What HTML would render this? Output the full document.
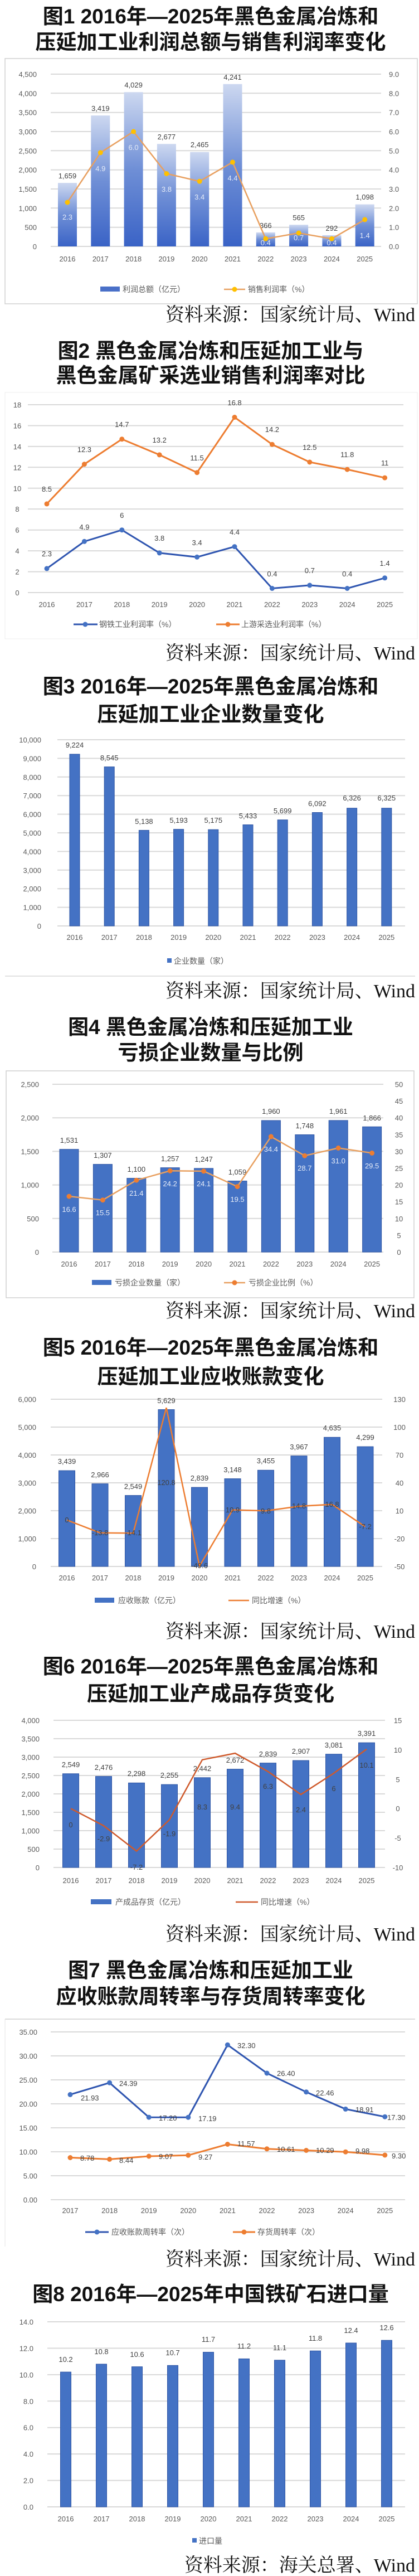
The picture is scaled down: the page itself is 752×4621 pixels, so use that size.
<!DOCTYPE html>
<html><head><meta charset="utf-8"><style>
html,body{margin:0;padding:0;background:#fff;}
svg{display:block;}
.t{font-family:"Liberation Sans","Noto Sans CJK SC",sans-serif;font-size:37px;font-weight:700;fill:#111;text-anchor:middle;}
.s{font-family:"Liberation Serif","Noto Serif CJK SC",serif;font-size:34px;fill:#111;text-anchor:end;}
.a{font-family:"Liberation Sans","Noto Sans CJK SC",sans-serif;font-size:13px;fill:#595959;}
.r{text-anchor:end;}
.m{text-anchor:middle;}
.d{font-family:"Liberation Sans","Noto Sans CJK SC",sans-serif;font-size:13px;fill:#404040;text-anchor:middle;}
.w{font-family:"Liberation Sans","Noto Sans CJK SC",sans-serif;font-size:13px;fill:#e6ecf8;text-anchor:middle;}
.l{font-family:"Liberation Sans","Noto Sans CJK SC",sans-serif;font-size:14px;fill:#595959;}
.g{stroke:#d9d9d9;stroke-width:2;}
</style></head><body>
<svg width="752" height="4621" viewBox="0 0 752 4621" xmlns="http://www.w3.org/2000/svg">
<defs>
<linearGradient id="bg1" x1="0" y1="0" x2="0" y2="1"><stop offset="0" stop-color="#cdd8f0"/><stop offset="0.5" stop-color="#6f8fd6"/><stop offset="1" stop-color="#3a63c6"/></linearGradient>
</defs>

<!-- ===== Chart 1 ===== -->
<text class="t" x="378" y="42">图1 2016年—2025年黑色金属冶炼和</text>
<text class="t" x="378" y="88">压延加工业利润总额与销售利润率变化</text>
<rect x="9" y="105" width="740" height="440" fill="none" stroke="#d0d0d0" stroke-width="1.5"/>
<g class="g">
<line x1="91" x2="684" y1="442" y2="442"/><line x1="91" x2="684" y1="407.7" y2="407.7"/><line x1="91" x2="684" y1="373.3" y2="373.3"/><line x1="91" x2="684" y1="339" y2="339"/><line x1="91" x2="684" y1="304.7" y2="304.7"/><line x1="91" x2="684" y1="270.3" y2="270.3"/><line x1="91" x2="684" y1="236" y2="236"/><line x1="91" x2="684" y1="201.7" y2="201.7"/><line x1="91" x2="684" y1="167.3" y2="167.3"/><line x1="91" x2="684" y1="133" y2="133"/>
</g>
<g class="a r">
<text x="66" y="447">0</text><text x="66" y="412.7">500</text><text x="66" y="378.3">1,000</text><text x="66" y="344">1,500</text><text x="66" y="309.7">2,000</text><text x="66" y="275.3">2,500</text><text x="66" y="241">3,000</text><text x="66" y="206.7">3,500</text><text x="66" y="172.3">4,000</text><text x="66" y="138">4,500</text>
</g>
<g class="a">
<text x="698" y="447">0.0</text><text x="698" y="412.7">1.0</text><text x="698" y="378.3">2.0</text><text x="698" y="344">3.0</text><text x="698" y="309.7">4.0</text><text x="698" y="275.3">5.0</text><text x="698" y="241">6.0</text><text x="698" y="206.7">7.0</text><text x="698" y="172.3">8.0</text><text x="698" y="138">9.0</text>
</g>
<g fill="url(#bg1)">
<rect x="104" y="328.1" width="34" height="113.9"/><rect x="163.3" y="207.2" width="34" height="234.8"/><rect x="222.6" y="165.3" width="34" height="276.7"/><rect x="281.9" y="258.2" width="34" height="183.8"/><rect x="341.2" y="272.7" width="34" height="169.3"/><rect x="400.5" y="150.8" width="34" height="291.2"/><rect x="459.8" y="416.9" width="34" height="25.1"/><rect x="519.1" y="403.2" width="34" height="38.8"/><rect x="578.4" y="421.9" width="34" height="20.1"/><rect x="637.7" y="366.6" width="34" height="75.4"/>
</g>
<g class="d">
<text x="121" y="320">1,659</text><text x="180.3" y="199">3,419</text><text x="239.6" y="157">4,029</text><text x="298.9" y="250">2,677</text><text x="358.2" y="264">2,465</text><text x="417.5" y="143">4,241</text><text x="476.8" y="409">366</text><text x="536.1" y="395">565</text><text x="595.4" y="414">292</text><text x="654.7" y="358">1,098</text>
</g>
<polyline fill="none" stroke="#e8a060" stroke-width="2.5" points="121,363 180.3,273.8 239.6,236 298.9,311.5 358.2,325.3 417.5,290.9 476.8,428.3 536.1,418 595.4,428.3 654.7,393.9"/>
<g fill="#ffc000">
<circle cx="121" cy="363" r="4.5"/><circle cx="180.3" cy="273.8" r="4.5"/><circle cx="239.6" cy="236" r="4.5"/><circle cx="298.9" cy="311.5" r="4.5"/><circle cx="358.2" cy="325.3" r="4.5"/><circle cx="417.5" cy="290.9" r="4.5"/><circle cx="476.8" cy="428.3" r="4.5"/><circle cx="536.1" cy="418" r="4.5"/><circle cx="595.4" cy="428.3" r="4.5"/><circle cx="654.7" cy="393.9" r="4.5"/>
</g>
<g class="w">
<text x="121" y="394">2.3</text><text x="180.3" y="307">4.9</text><text x="239.6" y="269">6.0</text><text x="298.9" y="344">3.8</text><text x="358.2" y="358">3.4</text><text x="417.5" y="324">4.4</text><text x="476.8" y="440">0.4</text><text x="536.1" y="431">0.7</text><text x="595.4" y="440">0.4</text><text x="654.7" y="427">1.4</text>
</g>
<rect x="180" y="514" width="35" height="9" fill="#4a70c8"/>
<text class="l" x="220" y="524">利润总额（亿元）</text>
<line x1="402" x2="440" y1="519" y2="519" stroke="#e8a060" stroke-width="2.5"/><circle cx="421" cy="519" r="4.5" fill="#ffc000"/>
<text class="l" x="445" y="524">销售利润率（%）</text>
<text class="s" x="745" y="576">资料来源：国家统计局、Wind</text>

<!-- ===== Chart 2 ===== -->
<text class="t" x="378" y="642">图2 黑色金属冶炼和压延加工业与</text>
<text class="t" x="378" y="686">黑色金属矿采选业销售利润率对比</text>
<rect x="9" y="704" width="740" height="442" fill="none" stroke="#ececec" stroke-width="1"/>
<g class="g">
<line x1="50" x2="724" y1="1063" y2="1063"/><line x1="50" x2="724" y1="1025.6" y2="1025.6"/><line x1="50" x2="724" y1="988.1" y2="988.1"/><line x1="50" x2="724" y1="950.7" y2="950.7"/><line x1="50" x2="724" y1="913.1" y2="913.1"/><line x1="50" x2="724" y1="875.8" y2="875.8"/><line x1="50" x2="724" y1="838.3" y2="838.3"/><line x1="50" x2="724" y1="800.9" y2="800.9"/><line x1="50" x2="724" y1="763.5" y2="763.5"/><line x1="50" x2="724" y1="726" y2="726"/>
</g>
<g class="a m">
<text x="31" y="1068">0</text><text x="31" y="1030.6">2</text><text x="31" y="993.1">4</text><text x="31" y="955.7">6</text><text x="31" y="918.1">8</text><text x="31" y="880.8">10</text><text x="31" y="843.3">12</text><text x="31" y="805.9">14</text><text x="31" y="768.5">16</text><text x="31" y="731">18</text>
</g>
<polyline fill="none" stroke="#ed7d31" stroke-width="3" points="84,903.9 151.4,832.7 218.8,787.8 286.2,815.9 353.6,847.7 421,748.5 488.4,797.2 555.8,829 623.2,842.1 690.6,857.1"/>
<g fill="#ed7d31">
<circle cx="84" cy="903.9" r="4.5"/><circle cx="151.4" cy="832.7" r="4.5"/><circle cx="218.8" cy="787.8" r="4.5"/><circle cx="286.2" cy="815.9" r="4.5"/><circle cx="353.6" cy="847.7" r="4.5"/><circle cx="421" cy="748.5" r="4.5"/><circle cx="488.4" cy="797.2" r="4.5"/><circle cx="555.8" cy="829" r="4.5"/><circle cx="623.2" cy="842.1" r="4.5"/><circle cx="690.6" cy="857.1" r="4.5"/>
</g>
<polyline fill="none" stroke="#2f55b0" stroke-width="3" points="84,1019.9 151.4,971.3 218.8,950.7 286.2,991.9 353.6,999.3 421,980.6 488.4,1055.5 555.8,1049.9 623.2,1055.5 690.6,1036.8"/>
<g fill="#4472c4">
<circle cx="84" cy="1019.9" r="4.5"/><circle cx="151.4" cy="971.3" r="4.5"/><circle cx="218.8" cy="950.7" r="4.5"/><circle cx="286.2" cy="991.9" r="4.5"/><circle cx="353.6" cy="999.3" r="4.5"/><circle cx="421" cy="980.6" r="4.5"/><circle cx="488.4" cy="1055.5" r="4.5"/><circle cx="555.8" cy="1049.9" r="4.5"/><circle cx="623.2" cy="1055.5" r="4.5"/><circle cx="690.6" cy="1036.8" r="4.5"/>
</g>
<g class="d">
<text x="84" y="882">8.5</text><text x="151.4" y="811">12.3</text><text x="218.8" y="766">14.7</text><text x="286.2" y="794">13.2</text><text x="353.6" y="826">11.5</text><text x="421" y="727">16.8</text><text x="488.4" y="775">14.2</text><text x="555.8" y="807">12.5</text><text x="623.2" y="820">11.8</text><text x="690.6" y="835">11</text>
<text x="84" y="998">2.3</text><text x="151.4" y="950">4.9</text><text x="218.8" y="929">6</text><text x="286.2" y="970">3.8</text><text x="353.6" y="978">3.4</text><text x="421" y="959">4.4</text><text x="488.4" y="1034">0.4</text><text x="555.8" y="1028">0.7</text><text x="623.2" y="1034">0.4</text><text x="690.6" y="1015">1.4</text>
</g>
<line x1="132" x2="175" y1="1120" y2="1120" stroke="#2f55b0" stroke-width="3"/><circle cx="153" cy="1120" r="4.5" fill="#4472c4"/>
<text class="l" x="178" y="1125">钢铁工业利润率（%）</text>
<line x1="388" x2="430" y1="1120" y2="1120" stroke="#ed7d31" stroke-width="3"/><circle cx="409" cy="1120" r="4.5" fill="#ed7d31"/>
<text class="l" x="433" y="1125">上游采选业利润率（%）</text>
<text class="s" x="745" y="1183">资料来源：国家统计局、Wind</text>

<!-- ===== Chart 3 ===== -->
<text class="t" x="378" y="1244">图3 2016年—2025年黑色金属冶炼和</text>
<text class="t" x="378" y="1294">压延加工业企业数量变化</text>
<g class="g">
<line x1="103" x2="727" y1="1661" y2="1661"/><line x1="103" x2="727" y1="1627.6" y2="1627.6"/><line x1="103" x2="727" y1="1594.2" y2="1594.2"/><line x1="103" x2="727" y1="1560.8" y2="1560.8"/><line x1="103" x2="727" y1="1527.4" y2="1527.4"/><line x1="103" x2="727" y1="1494" y2="1494"/><line x1="103" x2="727" y1="1460.6" y2="1460.6"/><line x1="103" x2="727" y1="1427.2" y2="1427.2"/><line x1="103" x2="727" y1="1393.8" y2="1393.8"/><line x1="103" x2="727" y1="1360.4" y2="1360.4"/><line x1="103" x2="727" y1="1327" y2="1327"/>
</g>
<g class="a r">
<text x="74" y="1666">0</text><text x="74" y="1632.6">1,000</text><text x="74" y="1599.2">2,000</text><text x="74" y="1565.8">3,000</text><text x="74" y="1532.4">4,000</text><text x="74" y="1499">5,000</text><text x="74" y="1465.6">6,000</text><text x="74" y="1432.2">7,000</text><text x="74" y="1398.8">8,000</text><text x="74" y="1365.4">9,000</text><text x="74" y="1332">10,000</text>
</g>
<g fill="#4472c4" stroke="#2f55a4" stroke-width="1">
<rect x="125" y="1352.9" width="18" height="308.1"/><rect x="187.2" y="1375.6" width="18" height="285.4"/><rect x="249.4" y="1489.4" width="18" height="171.6"/><rect x="311.6" y="1487.6" width="18" height="173.4"/><rect x="373.8" y="1488.2" width="18" height="172.8"/><rect x="436" y="1479.5" width="18" height="181.5"/><rect x="498.2" y="1470.7" width="18" height="190.3"/><rect x="560.4" y="1457.5" width="18" height="203.5"/><rect x="622.6" y="1449.7" width="18" height="211.3"/><rect x="684.8" y="1449.7" width="18" height="211.3"/>
</g>
<g class="d">
<text x="134" y="1341">9,224</text><text x="196.2" y="1364">8,545</text><text x="258.4" y="1478">5,138</text><text x="320.6" y="1476">5,193</text><text x="382.8" y="1476">5,175</text><text x="445" y="1468">5,433</text><text x="507.2" y="1459">5,699</text><text x="569.4" y="1446">6,092</text><text x="631.6" y="1436">6,326</text><text x="693.8" y="1436">6,325</text>
</g>
<rect x="300" y="1719" width="8" height="8" fill="#4472c4"/>
<text class="l" x="312" y="1729">企业数量（家）</text>
<line x1="9" x2="745" y1="1751" y2="1751" stroke="#d9d9d9" stroke-width="1.5"/>
<text class="s" x="745" y="1789">资料来源：国家统计局、Wind</text>

<!-- ===== Chart 4 ===== -->
<text class="t" x="378" y="1855">图4 黑色金属冶炼和压延加工业</text>
<text class="t" x="378" y="1901">亏损企业数量与比例</text>
<rect x="11" y="1921" width="732" height="407" fill="none" stroke="#d0d0d0" stroke-width="1.5"/>
<g class="g">
<line x1="94" x2="688" y1="2246" y2="2246"/><line x1="94" x2="688" y1="2185.8" y2="2185.8"/><line x1="94" x2="688" y1="2125.6" y2="2125.6"/><line x1="94" x2="688" y1="2065.4" y2="2065.4"/><line x1="94" x2="688" y1="2005.2" y2="2005.2"/><line x1="94" x2="688" y1="1945" y2="1945"/>
</g>
<g class="a r">
<text x="70" y="2251">0</text><text x="70" y="2190.8">500</text><text x="70" y="2130.6">1,000</text><text x="70" y="2070.4">1,500</text><text x="70" y="2010.2">2,000</text><text x="70" y="1950">2,500</text>
</g>
<g class="a m">
<text x="716" y="2251">0</text><text x="716" y="2220.9">5</text><text x="716" y="2190.8">10</text><text x="716" y="2160.7">15</text><text x="716" y="2130.6">20</text><text x="716" y="2100.5">25</text><text x="716" y="2070.4">30</text><text x="716" y="2040.3">35</text><text x="716" y="2010.2">40</text><text x="716" y="1980.1">45</text><text x="716" y="1950">50</text>
</g>
<g fill="#4472c4" stroke="#2f55a4" stroke-width="1">
<rect x="107" y="2061.7" width="34" height="184.3"/><rect x="167.4" y="2088.6" width="34" height="157.4"/><rect x="227.8" y="2113.6" width="34" height="132.4"/><rect x="288.2" y="2094.7" width="34" height="151.3"/><rect x="348.6" y="2095.9" width="34" height="150.1"/><rect x="409" y="2118.5" width="34" height="127.5"/><rect x="469.4" y="2010" width="34" height="236"/><rect x="529.8" y="2035.5" width="34" height="210.5"/><rect x="590.2" y="2009.9" width="34" height="236.1"/><rect x="650.6" y="2021.3" width="34" height="224.7"/>
</g>
<g class="d">
<text x="124" y="2050">1,531</text><text x="184.4" y="2077">1,307</text><text x="244.8" y="2102">1,100</text><text x="305.2" y="2083">1,257</text><text x="365.6" y="2084">1,247</text><text x="426" y="2107">1,059</text><text x="486.4" y="1998">1,960</text><text x="546.8" y="2024">1,748</text><text x="607.2" y="1998">1,961</text><text x="667.6" y="2010">1,866</text>
</g>
<polyline fill="none" stroke="#e8a060" stroke-width="2.5" points="124,2146.1 184.4,2152.7 244.8,2117.2 305.2,2100.3 365.6,2100.9 426,2128.6 486.4,2038.9 546.8,2073.2 607.2,2059.4 667.6,2068.4"/>
<g fill="#ed7d31">
<circle cx="124" cy="2146.1" r="4.5"/><circle cx="184.4" cy="2152.7" r="4.5"/><circle cx="244.8" cy="2117.2" r="4.5"/><circle cx="305.2" cy="2100.3" r="4.5"/><circle cx="365.6" cy="2100.9" r="4.5"/><circle cx="426" cy="2128.6" r="4.5"/><circle cx="486.4" cy="2038.9" r="4.5"/><circle cx="546.8" cy="2073.2" r="4.5"/><circle cx="607.2" cy="2059.4" r="4.5"/><circle cx="667.6" cy="2068.4" r="4.5"/>
</g>
<g class="w">
<text x="124" y="2174">16.6</text><text x="184.4" y="2180">15.5</text><text x="244.8" y="2145">21.4</text><text x="305.2" y="2128">24.2</text><text x="365.6" y="2128">24.1</text><text x="426" y="2156">19.5</text><text x="486.4" y="2066">34.4</text><text x="546.8" y="2100">28.7</text><text x="607.2" y="2087">31.0</text><text x="667.6" y="2096">29.5</text>
</g>
<rect x="165" y="2296" width="35" height="9" fill="#4472c4"/>
<text class="l" x="206" y="2306">亏损企业数量（家）</text>
<line x1="402" x2="440" y1="2301" y2="2301" stroke="#e8a060" stroke-width="2.5"/><circle cx="421" cy="2301" r="4.5" fill="#ed7d31"/>
<text class="l" x="446" y="2306">亏损企业比例（%）</text>
<text class="s" x="745" y="2363">资料来源：国家统计局、Wind</text>

<!-- ===== Chart 5 ===== -->
<text class="t" x="378" y="2430">图5 2016年—2025年黑色金属冶炼和</text>
<text class="t" x="378" y="2482">压延加工业应收账款变化</text>
<g class="g">
<line x1="91" x2="686" y1="2810" y2="2810"/><line x1="91" x2="686" y1="2760" y2="2760"/><line x1="91" x2="686" y1="2710" y2="2710"/><line x1="91" x2="686" y1="2660" y2="2660"/><line x1="91" x2="686" y1="2610" y2="2610"/><line x1="91" x2="686" y1="2560" y2="2560"/><line x1="91" x2="686" y1="2510" y2="2510"/>
</g>
<g class="a r">
<text x="65" y="2815">0</text><text x="65" y="2765">1,000</text><text x="65" y="2715">2,000</text><text x="65" y="2665">3,000</text><text x="65" y="2615">4,000</text><text x="65" y="2565">5,000</text><text x="65" y="2515">6,000</text>
</g>
<g class="a m">
<text x="717" y="2815">-50</text><text x="717" y="2765">-20</text><text x="717" y="2715">10</text><text x="717" y="2665">40</text><text x="717" y="2615">70</text><text x="717" y="2565">100</text><text x="717" y="2515">130</text>
</g>
<g fill="#4472c4" stroke="#2f55a4" stroke-width="1">
<rect x="105.5" y="2638.1" width="29" height="171.9"/><rect x="165" y="2661.7" width="29" height="148.3"/><rect x="224.5" y="2682.6" width="29" height="127.4"/><rect x="284" y="2528.6" width="29" height="281.4"/><rect x="343.5" y="2668.1" width="29" height="141.9"/><rect x="403" y="2652.6" width="29" height="157.4"/><rect x="462.5" y="2637.3" width="29" height="172.7"/><rect x="522" y="2611.7" width="29" height="198.3"/><rect x="581.5" y="2578.3" width="29" height="231.7"/><rect x="641" y="2595.1" width="29" height="214.9"/>
</g>
<g class="d">
<text x="120" y="2626">3,439</text><text x="179.5" y="2650">2,966</text><text x="239" y="2671">2,549</text><text x="298.5" y="2517">5,629</text><text x="358" y="2656">2,839</text><text x="417.5" y="2641">3,148</text><text x="477" y="2625">3,455</text><text x="536.5" y="2600">3,967</text><text x="596" y="2566">4,635</text><text x="655.5" y="2583">4,299</text>
</g>
<polyline fill="none" stroke="#ed7d31" stroke-width="2.5" points="120,2726.7 179.5,2749.7 239,2750.2 298.5,2525.3 358,2809.3 417.5,2708.5 477,2710.3 536.5,2702 596,2698.7 655.5,2738.7"/>
<g class="d">
<text x="120" y="2731">0</text><text x="179.5" y="2754">-13.8</text><text x="239" y="2754">-14.1</text><text x="298.5" y="2664">120.8</text><text x="358" y="2813">-49.6</text><text x="417.5" y="2713">10.9</text><text x="477" y="2715">9.8</text><text x="536.5" y="2706">14.8</text><text x="596" y="2703">16.8</text><text x="655.5" y="2743">-7.2</text>
</g>
<rect x="170" y="2866" width="35" height="9" fill="#4472c4"/>
<text class="l" x="212" y="2876">应收账款（亿元）</text>
<line x1="410" x2="447" y1="2871" y2="2871" stroke="#ed7d31" stroke-width="2.5"/>
<text class="l" x="452" y="2876">同比增速（%）</text>
<text class="s" x="745" y="2938">资料来源：国家统计局、Wind</text>

<!-- ===== Chart 6 ===== -->
<text class="t" x="378" y="3002">图6 2016年—2025年黑色金属冶炼和</text>
<text class="t" x="378" y="3051">压延加工业产成品存货变化</text>
<g class="g">
<line x1="96" x2="691" y1="3350" y2="3350"/><line x1="96" x2="691" y1="3317" y2="3317"/><line x1="96" x2="691" y1="3284" y2="3284"/><line x1="96" x2="691" y1="3251" y2="3251"/><line x1="96" x2="691" y1="3218" y2="3218"/><line x1="96" x2="691" y1="3185" y2="3185"/><line x1="96" x2="691" y1="3152" y2="3152"/><line x1="96" x2="691" y1="3119" y2="3119"/><line x1="96" x2="691" y1="3086" y2="3086"/>
</g>
<g class="a r">
<text x="71" y="3355">0</text><text x="71" y="3322">500</text><text x="71" y="3289">1,000</text><text x="71" y="3256">1,500</text><text x="71" y="3223">2,000</text><text x="71" y="3190">2,500</text><text x="71" y="3157">3,000</text><text x="71" y="3124">3,500</text><text x="71" y="3091">4,000</text>
</g>
<g class="a m">
<text x="714" y="3355">-10</text><text x="714" y="3302">-5</text><text x="714" y="3249">0</text><text x="714" y="3197">5</text><text x="714" y="3144">10</text><text x="714" y="3091">15</text>
</g>
<g fill="#4472c4" stroke="#2f55a4" stroke-width="1">
<rect x="112.5" y="3181.8" width="29" height="168.2"/><rect x="171.5" y="3186.6" width="29" height="163.4"/><rect x="230.5" y="3198.3" width="29" height="151.7"/><rect x="289.5" y="3201.2" width="29" height="148.8"/><rect x="348.5" y="3188.8" width="29" height="161.2"/><rect x="407.5" y="3173.6" width="29" height="176.4"/><rect x="466.5" y="3162.6" width="29" height="187.4"/><rect x="525.5" y="3158.1" width="29" height="191.9"/><rect x="584.5" y="3146.7" width="29" height="203.3"/><rect x="643.5" y="3126.2" width="29" height="223.8"/>
</g>
<g class="d">
<text x="127" y="3170">2,549</text><text x="186" y="3175">2,476</text><text x="245" y="3186">2,298</text><text x="304" y="3189">2,255</text><text x="363" y="3177">2,442</text><text x="422" y="3162">2,672</text><text x="481" y="3151">2,839</text><text x="540" y="3146">2,907</text><text x="599" y="3135">3,081</text><text x="658" y="3114">3,391</text>
</g>
<polyline fill="none" stroke="#cf5a2c" stroke-width="2.5" points="127,3244.4 186,3275 245,3320.6 304,3264.5 363,3156.8 422,3145.1 481,3177.9 540,3219.1 599,3181 658,3137.7"/>
<g class="d">
<text x="127" y="3278">0</text><text x="186" y="3303">-2.9</text><text x="245" y="3354">-7.2</text><text x="304" y="3294">-1.9</text><text x="363" y="3246">8.3</text><text x="422" y="3246">9.4</text><text x="481" y="3209">6.3</text><text x="540" y="3251">2.4</text><text x="599" y="3213">6</text><text x="658" y="3171">10.1</text>
</g>
<rect x="163" y="3407" width="37" height="9" fill="#4472c4"/>
<text class="l" x="207" y="3417">产成品存货（亿元）</text>
<line x1="423" x2="463" y1="3412" y2="3412" stroke="#cf5a2c" stroke-width="2.5"/>
<text class="l" x="468" y="3417">同比增速（%）</text>
<text class="s" x="745" y="3481">资料来源：国家统计局、Wind</text>

<!-- ===== Chart 7 ===== -->
<text class="t" x="378" y="3547">图7 黑色金属冶炼和压延加工业</text>
<text class="t" x="378" y="3594">应收账款周转率与存货周转率变化</text>
<line x1="9" x2="745" y1="3622" y2="3622" stroke="#d0d0d0" stroke-width="1.5"/>
<line x1="9" x2="9" y1="3622" y2="4030" stroke="#e6e6e6" stroke-width="1"/>
<g class="g">
<line x1="91" x2="727" y1="3946" y2="3946"/><line x1="91" x2="727" y1="3903" y2="3903"/><line x1="91" x2="727" y1="3860" y2="3860"/><line x1="91" x2="727" y1="3817" y2="3817"/><line x1="91" x2="727" y1="3774" y2="3774"/><line x1="91" x2="727" y1="3731" y2="3731"/><line x1="91" x2="727" y1="3688" y2="3688"/><line x1="91" x2="727" y1="3645" y2="3645"/>
</g>
<g class="a r">
<text x="67" y="3951">0.00</text><text x="67" y="3908">5.00</text><text x="67" y="3865">10.00</text><text x="67" y="3822">15.00</text><text x="67" y="3779">20.00</text><text x="67" y="3736">25.00</text><text x="67" y="3693">30.00</text><text x="67" y="3650">35.00</text>
</g>
<polyline fill="none" stroke="#2f55b0" stroke-width="3" points="126,3757.4 196.6,3736.2 267.2,3798.1 337.8,3798.2 408.4,3668.2 479,3719 549.6,3752.8 620.2,3783.4 690.8,3797.2"/>
<g fill="#4472c4">
<circle cx="126" cy="3757.4" r="4.5"/><circle cx="196.6" cy="3736.2" r="4.5"/><circle cx="267.2" cy="3798.1" r="4.5"/><circle cx="337.8" cy="3798.2" r="4.5"/><circle cx="408.4" cy="3668.2" r="4.5"/><circle cx="479" cy="3719" r="4.5"/><circle cx="549.6" cy="3752.8" r="4.5"/><circle cx="620.2" cy="3783.4" r="4.5"/><circle cx="690.8" cy="3797.2" r="4.5"/>
</g>
<polyline fill="none" stroke="#ed7d31" stroke-width="3" points="126,3870.5 196.6,3873.4 267.2,3868 337.8,3866.3 408.4,3846.5 479,3854.8 549.6,3857.5 620.2,3860.2 690.8,3866"/>
<g fill="#ed7d31">
<circle cx="126" cy="3870.5" r="4.5"/><circle cx="196.6" cy="3873.4" r="4.5"/><circle cx="267.2" cy="3868" r="4.5"/><circle cx="337.8" cy="3866.3" r="4.5"/><circle cx="408.4" cy="3846.5" r="4.5"/><circle cx="479" cy="3854.8" r="4.5"/><circle cx="549.6" cy="3857.5" r="4.5"/><circle cx="620.2" cy="3860.2" r="4.5"/><circle cx="690.8" cy="3866" r="4.5"/>
</g>
<g class="a" style="fill:#404040">
<text x="145" y="3768">21.93</text><text x="214" y="3742">24.39</text><text x="285" y="3804">17.20</text><text x="356" y="3805">17.19</text><text x="426" y="3674">32.30</text><text x="497" y="3724">26.40</text><text x="567" y="3759">22.46</text><text x="638" y="3789">18.91</text><text x="695" y="3803">17.30</text>
<text x="144" y="3876">8.78</text><text x="214" y="3880">8.44</text><text x="285" y="3873">9.07</text><text x="356" y="3874">9.27</text><text x="426" y="3850">11.57</text><text x="497" y="3860">10.61</text><text x="567" y="3862">10.29</text><text x="638" y="3863">9.98</text><text x="703" y="3872">9.30</text>
</g>
<line x1="153" x2="195" y1="4004" y2="4004" stroke="#2f55b0" stroke-width="3"/><circle cx="174" cy="4004" r="4.5" fill="#4472c4"/>
<text class="l" x="200" y="4009">应收账款周转率（次）</text>
<line x1="418" x2="458" y1="4004" y2="4004" stroke="#ed7d31" stroke-width="3"/><circle cx="438" cy="4004" r="4.5" fill="#ed7d31"/>
<text class="l" x="462" y="4009">存货周转率（次）</text>
<text class="s" x="745" y="4064">资料来源：国家统计局、Wind</text>

<!-- ===== Chart 8 ===== -->
<text class="t" x="378" y="4128">图8 2016年—2025年中国铁矿石进口量</text>
<g class="g">
<line x1="85" x2="727" y1="4497" y2="4497"/><line x1="85" x2="727" y1="4449.6" y2="4449.6"/><line x1="85" x2="727" y1="4402.1" y2="4402.1"/><line x1="85" x2="727" y1="4354.7" y2="4354.7"/><line x1="85" x2="727" y1="4307.3" y2="4307.3"/><line x1="85" x2="727" y1="4259.9" y2="4259.9"/><line x1="85" x2="727" y1="4212.4" y2="4212.4"/><line x1="85" x2="727" y1="4165" y2="4165"/>
</g>
<g class="a r">
<text x="60" y="4502">0.0</text><text x="60" y="4454.6">2.0</text><text x="60" y="4407.1">4.0</text><text x="60" y="4359.7">6.0</text><text x="60" y="4312.3">8.0</text><text x="60" y="4264.9">10.0</text><text x="60" y="4217.4">12.0</text><text x="60" y="4170">14.0</text>
</g>
<g fill="#4472c4" stroke="#2f55a4" stroke-width="1">
<rect x="108.5" y="4255.1" width="19" height="241.9"/><rect x="172.5" y="4240.9" width="19" height="256.1"/><rect x="236.5" y="4245.6" width="19" height="251.4"/><rect x="300.5" y="4243.3" width="19" height="253.7"/><rect x="364.5" y="4219.5" width="19" height="277.5"/><rect x="428.5" y="4231.4" width="19" height="265.6"/><rect x="492.5" y="4233.8" width="19" height="263.2"/><rect x="556.5" y="4217.2" width="19" height="279.8"/><rect x="620.5" y="4203" width="19" height="294"/><rect x="684.5" y="4198.2" width="19" height="298.8"/>
</g>
<g class="d">
<text x="118" y="4237">10.2</text><text x="182" y="4223">10.8</text><text x="246" y="4228">10.6</text><text x="310" y="4225">10.7</text><text x="374" y="4201">11.7</text><text x="438" y="4213">11.2</text><text x="502" y="4216">11.1</text><text x="566" y="4199">11.8</text><text x="630" y="4185">12.4</text><text x="694" y="4180">12.6</text>
</g>
<rect x="345" y="4553" width="8" height="8" fill="#4472c4"/>
<text class="l" x="357" y="4563">进口量</text>
<text class="s" x="745" y="4613">资料来源：海关总署、Wind</text>

<!-- year labels -->
<g class="a m">
<text x="121" y="469">2016</text><text x="180.3" y="469">2017</text><text x="239.6" y="469">2018</text><text x="298.9" y="469">2019</text><text x="358.2" y="469">2020</text><text x="417.5" y="469">2021</text><text x="476.8" y="469">2022</text><text x="536.1" y="469">2023</text><text x="595.4" y="469">2024</text><text x="654.7" y="469">2025</text>
<text x="84" y="1089">2016</text><text x="151.4" y="1089">2017</text><text x="218.8" y="1089">2018</text><text x="286.2" y="1089">2019</text><text x="353.6" y="1089">2020</text><text x="421" y="1089">2021</text><text x="488.4" y="1089">2022</text><text x="555.8" y="1089">2023</text><text x="623.2" y="1089">2024</text><text x="690.6" y="1089">2025</text>
<text x="134" y="1686">2016</text><text x="196.2" y="1686">2017</text><text x="258.4" y="1686">2018</text><text x="320.6" y="1686">2019</text><text x="382.8" y="1686">2020</text><text x="445" y="1686">2021</text><text x="507.2" y="1686">2022</text><text x="569.4" y="1686">2023</text><text x="631.6" y="1686">2024</text><text x="693.8" y="1686">2025</text>
<text x="124" y="2272">2016</text><text x="184.4" y="2272">2017</text><text x="244.8" y="2272">2018</text><text x="305.2" y="2272">2019</text><text x="365.6" y="2272">2020</text><text x="426" y="2272">2021</text><text x="486.4" y="2272">2022</text><text x="546.8" y="2272">2023</text><text x="607.2" y="2272">2024</text><text x="667.6" y="2272">2025</text>
<text x="120" y="2835">2016</text><text x="179.5" y="2835">2017</text><text x="239" y="2835">2018</text><text x="298.5" y="2835">2019</text><text x="358" y="2835">2020</text><text x="417.5" y="2835">2021</text><text x="477" y="2835">2022</text><text x="536.5" y="2835">2023</text><text x="596" y="2835">2024</text><text x="655.5" y="2835">2025</text>
<text x="127" y="3378">2016</text><text x="186" y="3378">2017</text><text x="245" y="3378">2018</text><text x="304" y="3378">2019</text><text x="363" y="3378">2020</text><text x="422" y="3378">2021</text><text x="481" y="3378">2022</text><text x="540" y="3378">2023</text><text x="599" y="3378">2024</text><text x="658" y="3378">2025</text>
<text x="126" y="3970">2017</text><text x="196.6" y="3970">2018</text><text x="267.2" y="3970">2019</text><text x="337.8" y="3970">2020</text><text x="408.4" y="3970">2021</text><text x="479" y="3970">2022</text><text x="549.6" y="3970">2023</text><text x="620.2" y="3970">2024</text><text x="690.8" y="3970">2025</text>
<text x="118" y="4523">2016</text><text x="182" y="4523">2017</text><text x="246" y="4523">2018</text><text x="310" y="4523">2019</text><text x="374" y="4523">2020</text><text x="438" y="4523">2021</text><text x="502" y="4523">2022</text><text x="566" y="4523">2023</text><text x="630" y="4523">2024</text><text x="694" y="4523">2025</text>
</g>
</svg>
</body></html>
